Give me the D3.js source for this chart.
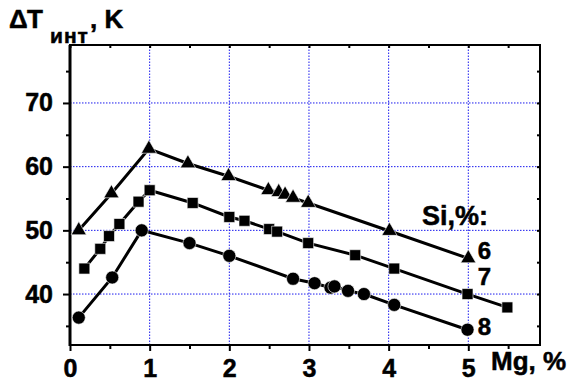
<!DOCTYPE html>
<html>
<head>
<meta charset="utf-8">
<script src="https://cdn.jsdelivr.net/npm/d3@7"></script>
<style>
  body { margin: 0; background: #fff; }
  text { font-family: "Liberation Sans", Arial, sans-serif; font-weight: bold; fill: #000; stroke: #000; stroke-width: 0.5px; }
</style>
</head>
<body>
<script>
// data: Mg, % vs dT (K) for three Si levels
const si6Mg = [0.11, 0.52, 0.99, 1.48, 1.99, 2.49, 2.62, 2.70, 2.80, 2.99, 4.01, 5.0];
const si6dT = [50.0, 55.8, 62.8, 60.5, 58.5, 56.3, 56.0, 55.6, 55.1, 54.3, 49.9, 45.6];

const si7Mg = [0.18, 0.38, 0.49, 0.62, 0.86, 1.0, 1.54, 2.0, 2.19, 2.50, 2.60, 2.99, 3.58, 4.07, 4.99, 5.49];
const si7dT = [44.0, 47.1, 49.1, 51.0, 54.5, 56.3, 54.3, 52.1, 51.5, 50.2, 49.8, 48.0, 46.1, 44.0, 40.0, 37.9];

const si8Mg = [0.11, 0.53, 0.90, 1.50, 2.0, 2.80, 3.07, 3.27, 3.32, 3.49, 3.69, 4.07, 4.99];
const si8dT = [36.3, 42.6, 50.0, 48.0, 46.0, 42.4, 41.7, 41.0, 41.2, 40.5, 40.0, 38.3, 34.4];

const seriesNames = ["6", "7", "8"];
const seriesSymbols = ["triangle", "square", "circle"];
const labelMg = [5.12, 5.12, 5.12];
const labelDT = [46.9, 42.8, 35.0];

const xTicks = [0, 1, 2, 3, 4, 5];
const xMinor = [0.5, 1.5, 2.5, 3.5, 4.5, 5.5];
const yTicks = [40, 50, 60, 70];
const yMinor = [35, 45, 55, 65, 75];

const W = 573, H = 381;
const svg = d3.select("body").append("svg")
  .attr("width", W)
  .attr("height", H);

const x = d3.scaleLinear().domain([0, 5.9]).range([70, 540]);
const y = d3.scaleLinear().domain([32, 79.1]).range([345, 45]);

// grid
const grid = svg.append("g")
  .attr("stroke", "#1a1aee")
  .attr("stroke-width", 1)
  .attr("stroke-dasharray", "1.5,1.5");
grid.selectAll(".gx").data(xTicks.filter(d => d > 0))
  .enter().append("line")
    .attr("x1", d => x(d)).attr("x2", d => x(d))
    .attr("y1", y.range()[0]).attr("y2", y.range()[1]);
grid.selectAll(".gy").data(yTicks)
  .enter().append("line")
    .attr("y1", d => y(d)).attr("y2", d => y(d))
    .attr("x1", x.range()[0]).attr("x2", x.range()[1]);

// frame
svg.append("rect")
  .attr("x", x(0)).attr("y", y(79.1))
  .attr("width", x(5.9) - x(0))
  .attr("height", y(32) - y(79.1))
  .attr("fill", "none")
  .attr("stroke", "#000")
  .attr("stroke-width", 2);
svg.append("line")
  .attr("x1", x(0)).attr("x2", x(0))
  .attr("y1", y(79.1)).attr("y2", y(32) + 1)
  .attr("stroke", "#000")
  .attr("stroke-width", 3);

// bottom axis
const xAxis = svg.append("g").attr("transform", "translate(0," + y(32) + ")");
xAxis.call(d3.axisBottom(x).tickValues(xTicks).tickSize(6).tickPadding(8).tickFormat(d3.format("d")));
xAxis.append("g").call(d3.axisBottom(x).tickValues(xMinor).tickSize(4).tickFormat(""));
xAxis.selectAll(".domain").remove();
xAxis.selectAll("line").attr("stroke-width", 2);
xAxis.selectAll("text").style("font-size", "25px").attr("fill", "#000");

// left axis
const yAxis = svg.append("g").attr("transform", "translate(" + x(0) + ",0)");
yAxis.call(d3.axisLeft(y).tickValues(yTicks).tickSize(7).tickPadding(10));
yAxis.append("g").call(d3.axisLeft(y).tickValues(yMinor).tickSize(4).tickFormat(""));
yAxis.selectAll(".domain").remove();
yAxis.selectAll("line").attr("stroke-width", 2);
yAxis.selectAll("text").style("font-size", "25px").attr("fill", "#000");

// top and right axes: small inward ticks
const topAxis = svg.append("g").attr("transform", "translate(0," + y(79.1) + ")");
topAxis.call(d3.axisBottom(x).tickValues(xTicks.concat(xMinor)).tickSize(3).tickFormat(""));
topAxis.selectAll(".domain").remove();
topAxis.selectAll("line").attr("stroke-width", 2);
const rightAxis = svg.append("g").attr("transform", "translate(" + x(5.9) + ",0)");
rightAxis.call(d3.axisLeft(y).tickValues(yTicks.concat(yMinor)).tickSize(3).tickFormat(""));
rightAxis.selectAll(".domain").remove();
rightAxis.selectAll("line").attr("stroke-width", 2);

// series
const series = [
  { name: seriesNames[0], sym: seriesSymbols[0], pts: si6Mg.map((m, i) => [m, si6dT[i]]) },
  { name: seriesNames[1], sym: seriesSymbols[1], pts: si7Mg.map((m, i) => [m, si7dT[i]]) },
  { name: seriesNames[2], sym: seriesSymbols[2], pts: si8Mg.map((m, i) => [m, si8dT[i]]) }
];

const line = d3.line().x(d => x(d[0])).y(d => y(d[1]));

svg.selectAll(".line")
  .data(series)
  .enter().append("path")
    .attr("class", "line")
    .attr("fill", "none")
    .attr("stroke", "#000")
    .attr("stroke-width", 3)
    .attr("d", d => line(d.pts));

const symbolType = { triangle: d3.symbolTriangle, square: d3.symbolSquare, circle: d3.symbolCircle };
const symbolSize = { triangle: 100, square: 120, circle: 135 };

series.forEach(s => {
  svg.selectAll(".pt-" + s.name)
    .data(s.pts)
    .enter().append("path")
      .attr("d", d3.symbol().type(symbolType[s.sym]).size(symbolSize[s.sym]))
      .attr("transform", d => "translate(" + x(d[0]) + "," + y(d[1]) + ")")
      .attr("fill", "#000")
      .attr("stroke", "#fff")
      .attr("stroke-width", 0.6);
});

// series labels
svg.selectAll(".lbl")
  .data(seriesNames)
  .enter().append("text")
    .attr("x", (d, i) => x(labelMg[i]))
    .attr("y", (d, i) => y(labelDT[i]))
    .attr("dy", "0.36em")
    .style("font-size", "24px")
    .text(d => d);

svg.append("text")
  .attr("x", 422).attr("y", 225)
  .style("font-size", "27px")
  .text("Si,%:");

// axis titles
svg.append("text")
  .attr("x", 491).attr("y", 370)
  .style("font-size", "26px")
  .text("Mg, %");

const title = svg.append("text")
  .attr("y", 28)
  .style("font-size", "26px");
title.append("tspan").attr("x", 9).attr("textLength", 34).text("ΔT");
title.append("tspan").attr("x", 50).attr("dy", 15).style("font-size", "21px")
  .style("letter-spacing", "1px").text("инт");
title.append("tspan").attr("x", 90).attr("dy", -15).text(", K");
</script>
</body>
</html>
